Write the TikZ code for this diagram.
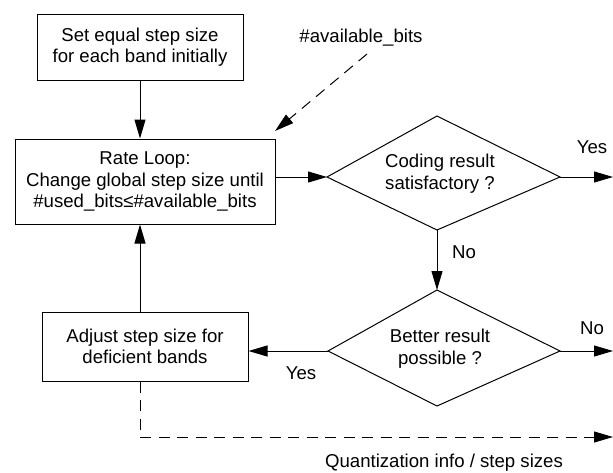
\documentclass[tikz,border=0pt]{standalone}
\usepackage{fontspec}
\setmainfont{Liberation Sans}
\usetikzlibrary{arrows.meta}
\begin{document}
\begin{tikzpicture}[x=1pt,y=-1pt,
  every node/.style={font=\fontsize{18.6}{21.5}\selectfont, inner sep=0pt},
  boxnode/.style={draw, line width=1pt, align=center},
  lbl/.style={align=center},
  conn/.style={line width=1pt, -{Triangle[length=19pt,width=11pt]}},
  dconn/.style={conn, dash pattern=on 11pt off 7.5pt},
  outl/.style={draw, line width=1pt}]
\useasboundingbox (0,0) rectangle (613,472);
\fill[white] (0,0) rectangle (613,472);
% boxes
\node[boxnode, minimum width=206pt, minimum height=66pt] (b1) at (140,47) {Set equal step size\\for each band initially};
\node[boxnode, minimum width=260pt, minimum height=85pt] (b2) at (145,181.5) {Rate Loop:\\Change global step size until\\\#used\_bits≤\#available\_bits};
\node[boxnode, minimum width=206pt, minimum height=69pt] (b3) at (145,346.5) {Adjust step size for\\deficient bands};
% diamond 1
\coordinate (d1t) at (437,116);
\coordinate (d1l) at (327,177);
\coordinate (d1r) at (560,177);
\coordinate (d1b) at (437,230);
\draw[outl] (d1t) -- (d1r) -- (d1b) -- (d1l) -- cycle;
\node[lbl] (d1) at (440,173.5) {Coding result\\satisfactory ?};
% diamond 2
\coordinate (d2t) at (437,290);
\coordinate (d2l) at (328,351);
\coordinate (d2r) at (560,351);
\coordinate (d2b) at (437,406);
\draw[outl] (d2t) -- (d2r) -- (d2b) -- (d2l) -- cycle;
\node[lbl] (d2) at (440,348.5) {Better result\\possible ?};
% free ends
\coordinate (o1) at (613,177);
\coordinate (o2) at (613,351);
\coordinate (o3) at (613,437);
\coordinate (bend) at (140,437);
\coordinate (avs) at (367,54);
\coordinate (ave) at (275,131);
% texts
\node[lbl] (tav) at (361,38) {\#available\_bits};
\node[lbl] (ty1) at (592,147) {Yes};
\node[lbl] (tn1) at (464,252) {No};
\node[lbl] (tn2) at (592,328) {No};
\node[lbl] (ty2) at (301,373) {Yes};
\node[lbl] (tq) at (444,463) {Quantization info / step sizes};
% connectors
\draw[conn] (b1.south) -- (b1.south |- b2.north);
\draw[conn] (b3.north -| b1.south) -- (b1.south |- b2.south);
\draw[conn] (b2.east |- d1l) -- (d1l);
\draw[conn] (d1r) -- (o1);
\draw[conn] (d1b) -- (d2t);
\draw[conn] (d2l) -- (b3.east |- d2l);
\draw[conn] (d2r) -- (o2);
\draw[dconn] (avs) -- (ave);
\draw[dconn] (b3.south -| b1.south) -- (bend) -- (o3);
\end{tikzpicture}
\end{document}
